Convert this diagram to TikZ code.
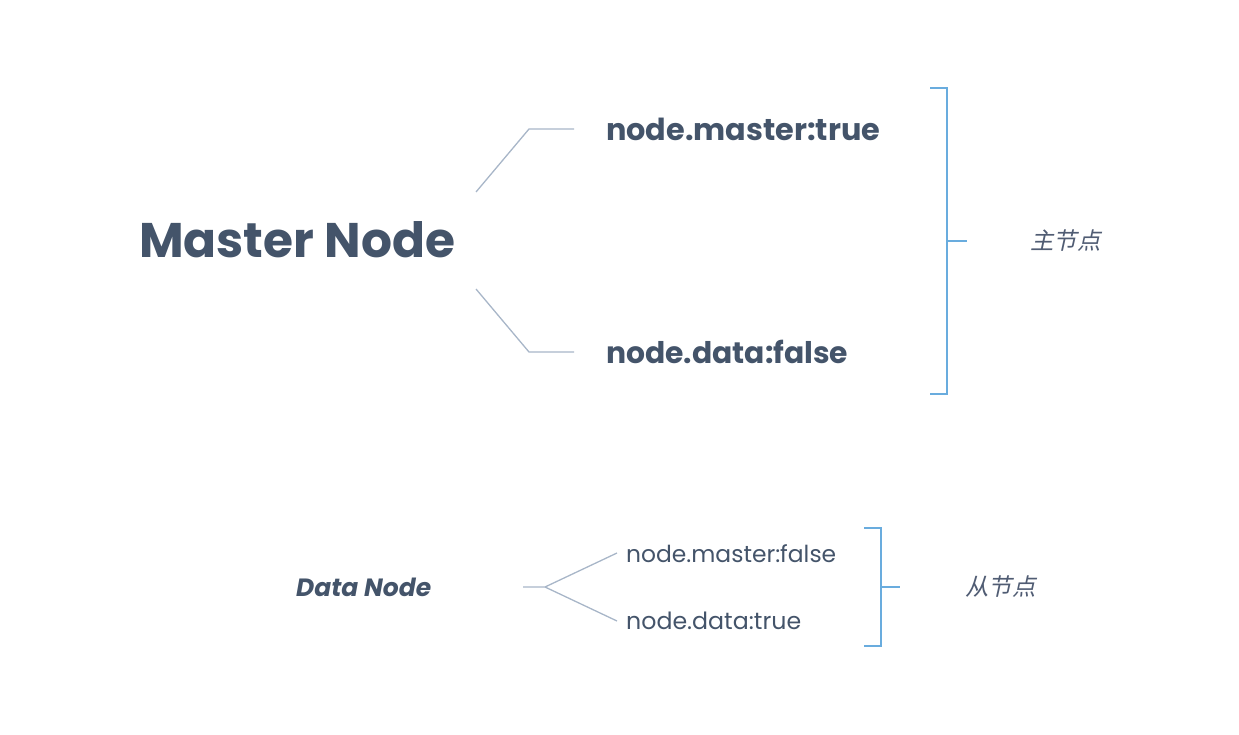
\documentclass[tikz,border=0pt]{standalone}
\usepackage{fontspec}
\setmainfont{Poppins}
\newfontfamily\cjk[FakeSlant=0.22]{Noto Sans CJK SC}
\definecolor{txt}{RGB}{68,84,106}
\definecolor{conn}{RGB}{168,182,200}
\definecolor{brk}{RGB}{105,172,222}
\definecolor{cjkc}{RGB}{80,92,115}
\tikzset{
  conline/.style={draw=conn, line width=1.3pt},
  brline/.style={draw=brk, line width=1.5pt},
  lbl/.style={inner sep=0pt, anchor=west, text=txt},
  cjklbl/.style={inner sep=0pt, anchor=west, text=cjkc, font=\cjk\fontsize{23.5}{25}\selectfont},
}
\begin{document}
\begin{tikzpicture}[x=1pt,y=-1pt]
\useasboundingbox (0,0) rectangle (1239,735);
% Master part
\node[lbl] (master) at (139,240) {\resizebox{316pt}{!}{\bfseries Master Node}};
\node[lbl] (mt) at (606,129) {\resizebox{274pt}{!}{\bfseries node.master:true}};
\node[lbl] (df) at (606,352) {\resizebox{242pt}{!}{\bfseries node.data:false}};
\coordinate (u0) at (476,192);
\coordinate (u1) at (529,129);
\coordinate (u2) at (574,129);
\coordinate (l0) at (476,289);
\coordinate (l1) at (529,352);
\coordinate (l2) at (574,352);
\draw[conline] (u0) -- (u1) -- (u2);
\draw[conline] (l0) -- (l1) -- (l2);
\coordinate (b1) at (930,88);
\coordinate (b2) at (947,88);
\coordinate (b3) at (947,394);
\coordinate (b4) at (930,394);
\coordinate (bm) at (947,241);
\coordinate (bt) at (967,241);
\draw[brline] (b1) -- (b2) -- (b3) -- (b4);
\draw[brline] (bm) -- (bt);
\node[cjklbl] (zhu) at (1030,241) {主节点};
% Data part
\node[lbl] (data) at (296,587) {\resizebox{135pt}{!}{\bfseries\itshape Data Node}};
\node[lbl] (mf) at (626,554) {\resizebox{210pt}{!}{node.master:false}};
\node[lbl] (dt) at (626,621) {\resizebox{175pt}{!}{node.data:true}};
\coordinate (d0) at (523,587);
\coordinate (d1) at (545,587);
\coordinate (d2) at (617,553);
\coordinate (d3) at (617,621);
\draw[conline] (d0) -- (d1) -- (d2);
\draw[conline] (d1) -- (d3);
\coordinate (c1) at (864,528);
\coordinate (c2) at (881,528);
\coordinate (c3) at (881,646);
\coordinate (c4) at (864,646);
\coordinate (cm) at (881,587);
\coordinate (ct) at (900,587);
\draw[brline] (c1) -- (c2) -- (c3) -- (c4);
\draw[brline] (cm) -- (ct);
\node[cjklbl] (cong) at (965,587) {从节点};
\end{tikzpicture}
\end{document}
